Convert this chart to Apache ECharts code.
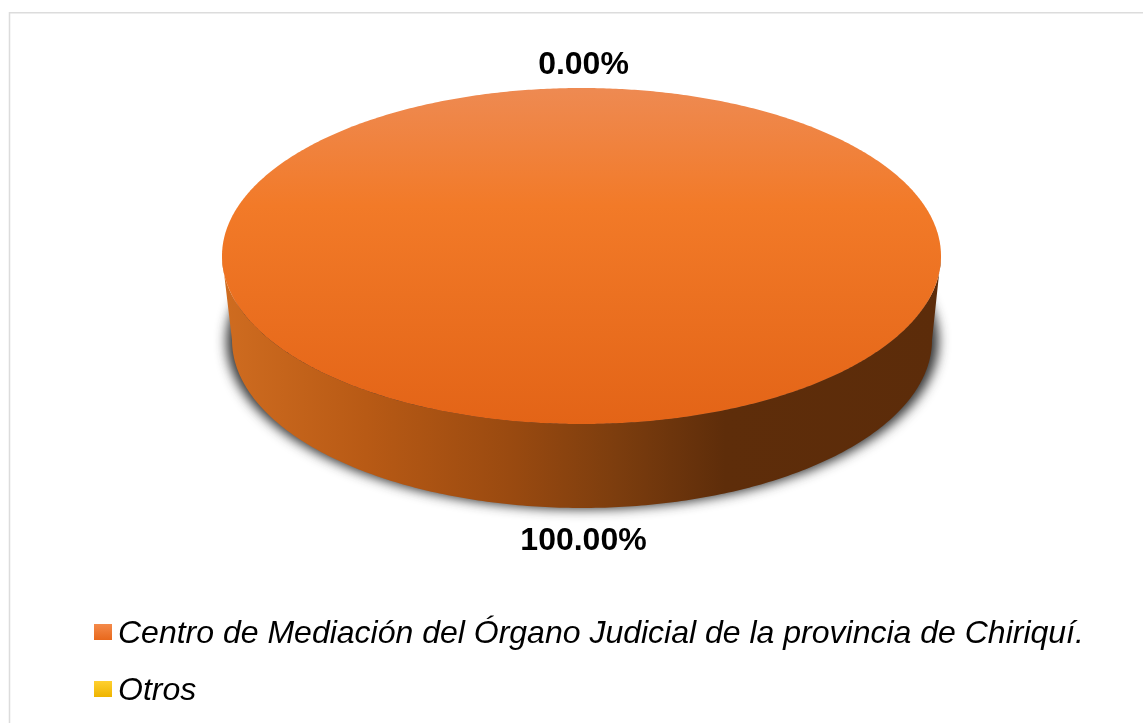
<!DOCTYPE html>
<html>
<head>
<meta charset="utf-8">
<style>
  html, body { margin: 0; padding: 0; background: #fff; }
  #chart { width: 1143px; height: 723px; }
</style>
<script src="https://cdn.jsdelivr.net/npm/echarts@6/dist/echarts.min.js"></script>
</head>
<body>
<div id="chart"></div>
<script>
const categories = ['Centro de Mediación del Órgano Judicial de la provincia de Chiriquí.', 'Otros']
const values = [100, 0]

const total = values.reduce((a, b) => a + b, 0)
const START = -Math.PI / 2

// top face and wall of the tilted pie
const top3d = { cx: 581.5, cy: 256, rx: 359.5, ry: 168 }
const base3d = { cx: 582, cy: 340, rx: 350, ry: 168 }

function vGrad(stops) {
  return new echarts.graphic.LinearGradient(0, 0, 0, 1, stops)
}

function hGrad(stops) {
  return new echarts.graphic.LinearGradient(0, 0, 1, 0, stops)
}

const sliceColors = [
  {
    top: vGrad([
      { offset: 0, color: '#ee8a52' },
      { offset: 0.35, color: '#f27a28' },
      { offset: 1, color: '#e36417' }
    ]),
    wall: hGrad([
      { offset: 0, color: '#cf6c20' },
      { offset: 0.2, color: '#b85a15' },
      { offset: 0.4, color: '#9a4a10' },
      { offset: 0.55, color: '#7c3d0e' },
      { offset: 0.7, color: '#5e2d0a' },
      { offset: 1, color: '#5c2c0a' }
    ]),
    legend: vGrad([
      { offset: 0, color: '#f48a4a' },
      { offset: 1, color: '#e8681c' }
    ])
  },
  {
    top: vGrad([
      { offset: 0, color: '#ffd030' },
      { offset: 1, color: '#eeb400' }
    ]),
    wall: hGrad([
      { offset: 0, color: '#c09000' },
      { offset: 1, color: '#6a5000' }
    ]),
    legend: vGrad([
      { offset: 0, color: '#ffd030' },
      { offset: 1, color: '#eeb400' }
    ])
  }
]

function ellipsePoint(e, a) {
  return [e.cx + e.rx * Math.cos(a), e.cy + e.ry * Math.sin(a)]
}

function sliceAngles(index) {
  const before = values.slice(0, index).reduce((a, b) => a + b, 0)
  return [
    START + (before / total) * Math.PI * 2,
    START + ((before + values[index]) / total) * Math.PI * 2
  ]
}

function renderSlice(index) {
  return function (params, api) {
    const value = api.value(0)
    const [a0, a1] = sliceAngles(index)
    const children = []

    if (value > 0) {
      // wall: only the front half of the ring is visible
      const w0 = Math.max(a0, 0)
      const w1 = Math.min(a1, Math.PI)
      if (w1 > w0) {
        const pts = []
        for (let i = 0; i <= 240; i++) {
          pts.push(ellipsePoint(base3d, w0 + ((w1 - w0) * i) / 240))
        }
        for (let i = 240; i >= 0; i--) {
          pts.push(ellipsePoint(top3d, w0 + ((w1 - w0) * i) / 240))
        }
        children.push({
          type: 'polygon',
          shape: { points: pts },
          style: { fill: sliceColors[index].wall }
        })
      }
      // top face
      const face = value < total ? [[top3d.cx, top3d.cy]] : []
      for (let i = 0; i <= 720; i++) {
        face.push(ellipsePoint(top3d, a0 + ((a1 - a0) * i) / 720))
      }
      children.push({
        type: 'polygon',
        shape: { points: face },
        style: { fill: sliceColors[index].top }
      })
    }

    const mid = (a0 + a1) / 2
    const front = Math.sin(mid) > 0
    children.push({
      type: 'text',
      x: top3d.cx + 2 + (top3d.rx + 20) * Math.cos(mid),
      y: front
        ? base3d.cy + base3d.ry + 33
        : top3d.cy - top3d.ry - 23,
      style: {
        text: ((value / total) * 100).toFixed(2) + '%',
        fill: '#000',
        font: 'bold 32px "Liberation Sans", Arial, sans-serif',
        align: 'center',
        verticalAlign: 'middle'
      }
    })

    return { type: 'group', children: children }
  }
}

const chart = echarts.init(document.getElementById('chart'))

chart.setOption({
  animation: false,
  backgroundColor: '#fff',
  legend: {
    orient: 'vertical',
    left: 89,
    top: 609,
    icon: 'rect',
    itemWidth: 18,
    itemHeight: 16,
    itemGap: 21,
    selectedMode: false,
    formatter: '{t|{name}}',
    data: categories.map((name, i) => ({
      name: name,
      itemStyle: { color: sliceColors[i].legend }
    })),
    textStyle: {
      rich: {
        t: {
          color: '#000',
          fontFamily: '"Liberation Sans", Arial, sans-serif',
          fontStyle: 'italic',
          fontSize: 32,
          lineHeight: 32,
          padding: [4, 0, 0, 1]
        }
      }
    }
  },
  graphic: [
    {
      // frame of the original picture, cut off on the right and at the bottom
      type: 'polyline',
      silent: true,
      shape: { points: [[9.5, 760], [9.5, 12.75], [1160, 12.75]] },
      style: { fill: 'none', stroke: '#dcdcdc', lineWidth: 1.5 }
    },
    {
      // soft shadow under the wall, the ellipse itself sits off canvas
      type: 'ellipse',
      silent: true,
      shape: { cx: base3d.cx + 0.5 - 3000, cy: base3d.cy + 1, rx: base3d.rx + 6, ry: base3d.ry },
      style: {
        fill: '#000',
        shadowBlur: 12,
        shadowOffsetX: 3000,
        shadowColor: 'rgba(30,30,30,0.9)'
      }
    }
  ],
  series: categories.map((name, i) => ({
    type: 'custom',
    name: name,
    coordinateSystem: 'none',
    silent: true,
    z: 3,
    renderItem: renderSlice(i),
    data: [[values[i]]]
  }))
})
</script>
</body>
</html>
